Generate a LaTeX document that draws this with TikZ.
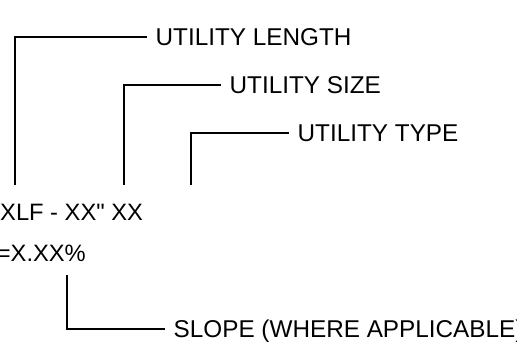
\documentclass[tikz,border=0pt]{standalone}
\usepackage{fontspec}
\setmainfont{Liberation Sans}[Ligatures=TeXOff]
\begin{document}
\begin{tikzpicture}[x=1pt,y=-1pt,
  lead/.style={line width=2pt, line join=miter},
  lbl/.style={anchor=west, inner xsep=8.5pt, inner ysep=0pt, text height=17.4pt, text depth=0pt,
    font=\fontsize{24.3}{29}\selectfont},
  code/.style={inner sep=0pt, font=\fontsize{23.7}{28}\selectfont}]
\useasboundingbox (0,0) rectangle (517,352);
% labels
\node[lbl] (len) at (147,37.3) {UTILITY LENGTH};
\node[lbl] (size) at (221,85) {UTILITY SIZE};
\node[lbl] (type) at (289,133) {UTILITY TYPE};
\node[lbl] (slope) at (165,329) {SLOPE (WHERE APPLICABLE)};
% code texts
\node[code, anchor=base west] (code) at (0,221) {XLF - XX" XX};
\node[code, anchor=base east] (pct) at (86,262) {=X.XX\%};
% free ends
\coordinate (lenend) at (15,185);
\coordinate (sizeend) at (124,185);
\coordinate (typeend) at (191,185);
\coordinate (slopeend) at (67,275);
% leaders
\draw[lead] (lenend) |- (len.west);
\draw[lead] (sizeend) |- (size.west);
\draw[lead] (typeend) |- (type.west);
\draw[lead] (slopeend) |- (slope.west);
\end{tikzpicture}
\end{document}
